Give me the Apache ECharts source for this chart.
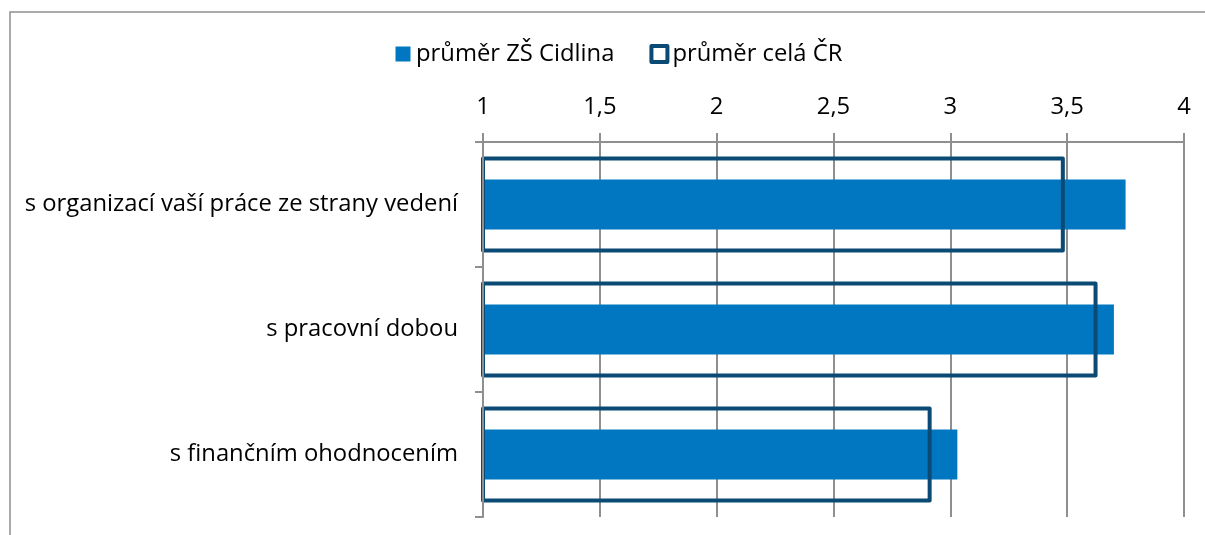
<!DOCTYPE html>
<html>
<head>
<meta charset="utf-8">
<script src="https://cdn.jsdelivr.net/npm/echarts@6/dist/echarts.min.js"></script>
<style>
  html, body { margin: 0; padding: 0; background: #fff; }
  #chart { width: 1205px; height: 535px; }
</style>
</head>
<body>
<div id="chart"></div>
<script>
// data
var categories = ['s organizací vaší práce ze strany vedení', 's pracovní dobou', 's finančním ohodnocením']
var skola = [3.75, 3.70, 3.03]
var celaCR = [3.49, 3.63, 2.92]
var seriesNames = ['průměr ZŠ Cidlina', 'průměr celá ČR']
var axisMin = 1, axisMax = 4, axisStep = 0.5

var fill = '#0077c0'
var dark = '#0b4a74'
var gray = '#8f8f8f'
var font = 'Open Sans'
var fs = 23.8

var myChart = echarts.init(document.getElementById('chart'))
myChart.setOption({
  animation: false,
  textStyle: { fontFamily: font },
  graphic: [{
    type: 'rect',
    shape: { x: 10, y: 12, width: 1400, height: 800 },
    style: { fill: 'none', stroke: gray, lineWidth: 1.5 },
    silent: true
  }],
  legend: {
    left: 390,
    top: 37,
    itemWidth: 16,
    itemHeight: 16,
    itemGap: 35,
    textStyle: { fontFamily: font, fontSize: fs, color: '#000' },
    data: [
      { name: seriesNames[0], icon: 'path://M0,0M16,16M0.5,0.5h15v15h-15z', itemStyle: { color: fill, borderWidth: 0 } },
      { name: seriesNames[1], icon: 'rect', itemStyle: { color: '#fff', borderColor: dark, borderWidth: 4, borderJoin: 'round' } }
    ]
  },
  grid: { left: 483, top: 142, right: 21, bottom: 18 },
  xAxis: {
    type: 'value',
    position: 'top',
    min: axisMin,
    max: axisMax,
    interval: axisStep,
    axisLine: { show: true, lineStyle: { color: gray, width: 2 } },
    axisTick: { show: true, length: 9, lineStyle: { color: gray, width: 2 } },
    splitLine: { show: true, lineStyle: { color: gray, width: 2 } },
    axisLabel: {
      margin: 23,
      fontSize: fs,
      color: '#000',
      fontFamily: font,
      formatter: function (v) { return String(v).replace('.', ',') }
    }
  },
  yAxis: [{
    type: 'category',
    data: categories,
    inverse: true,
    z: 5,
    axisLine: { show: true, lineStyle: { color: gray, width: 2 } },
    axisTick: { show: true, length: 8, lineStyle: { color: gray, width: 2 } },
    axisLabel: { margin: 25, fontSize: fs, color: '#000', fontFamily: font }
  }, {
    type: 'category',
    data: categories,
    inverse: true,
    show: false
  }],
  series: [{
    name: seriesNames[0],
    type: 'bar',
    yAxisIndex: 0,
    barWidth: 50,
    data: skola,
    itemStyle: { color: fill }
  }, {
    name: seriesNames[1],
    type: 'bar',
    yAxisIndex: 1,
    barWidth: 96,
    data: celaCR,
    itemStyle: { color: 'rgba(0,0,0,0)', borderColor: dark, borderWidth: 4, borderJoin: 'round' }
  }]
})
</script>
</body>
</html>
